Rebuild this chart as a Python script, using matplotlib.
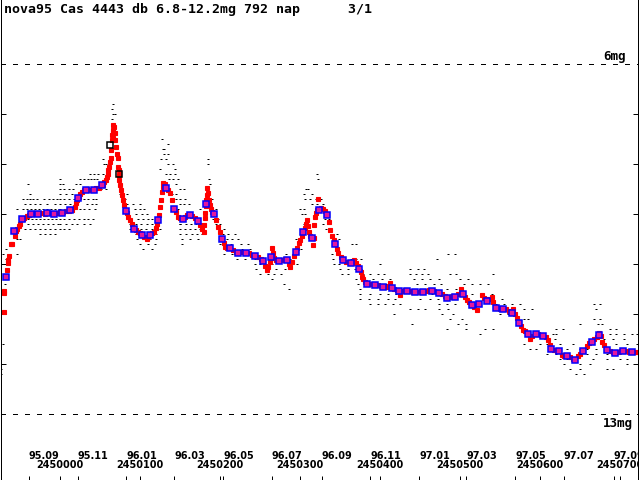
import matplotlib
matplotlib.use('Agg')
import matplotlib.pyplot as plt

# time axis is JD - 2450000, magnitudes grow downward

# red: single estimates, dense track
red_t = [
    -70, -70, -69, -67, -66, -65, -64, -63, -61, -59,
    -56, -55, -53, -51, -49, -46, -44, -41, -38, -36,
    -33, -29, -26, -22, -18, -14, -11, -7, -3, 1,
    4, 8, 12, 16, 19, 21, 22, 24, 26, 28,
    31, 34, 38, 42, 46, 49, 52, 54, 56, 58,
    59, 60, 61, 62, 63, 64, 64.5, 65, 65.5, 66.5,
    67.3, 68, 67, 66.3, 68.8, 69.4, 70.6, 72.3, 72.5, 73.5,
    73.8, 74.4, 74.8, 75.6, 76.5, 77.5, 79, 80.6, 83, 84,
    86, 88, 91, 93, 96, 98.5, 101, 103.5, 106, 109,
    111, 113, 116, 118.5, 120.6, 122, 123.5, 124.4, 125.6, 126.6,
    127.8, 128.8, 129.8, 131.3, 133, 135.6, 138, 140.6, 143.5, 145.6,
    148.5, 150.6, 154, 156.9, 159.4, 163.1, 165.6, 169.4, 173.5, 175.6,
    178.1, 180, 180.6, 181.3, 181.9, 182.5, 183.1, 183.8, 184.8, 185.6,
    186.9, 188.1, 189.4, 190.6, 193.1, 195.6, 198.5, 200.6, 203.5, 205.6,
    206.9, 209.4, 213.1, 216.9, 220.6, 223.5, 226.9, 230.6, 233.1, 236.9,
    240.6, 244.4, 248.1, 251.9, 254.8, 256.9, 259, 260.6, 262.5, 264.4,
    265.3, 266.3, 268.1, 270.6, 274.8, 278.1, 281.9, 284.8, 286.9, 288.1,
    290.6, 293.1, 295.3, 296.9, 299.4, 300.6, 303.1, 304.8, 306.9, 308.1,
    309.8, 310.6, 311.9, 313.1, 315.3, 316.5, 317.5, 318.1, 319.4, 320.6,
    322.3, 323.5, 324.8, 326.9, 329.4, 331.9, 334.8, 336.9, 338.1, 340.6,
    342.5, 344.4, 346.9, 348.5, 351.9, 354.8, 358.1, 361.9, 364.4, 368.1,
    370.6, 373.1, 374.8, 376.3, 377.8, 379.4, 381.9, 384, 386.9, 390.6,
    394.4, 398.1, 401.9, 404.8, 408.1, 411.9, 413.1, 415.3, 418.1, 421.9,
    424.8, 425.6, 428.1, 431.9, 434.8, 438.1, 441.9, 444.8, 448.1, 451.9,
    454.8, 458.1, 461.9, 465.3, 468.1, 471.9, 474.8, 478.1, 481.9, 484.8,
    488.1, 491.9, 494.8, 498.1, 501.5, 504.8, 506.9, 509, 511.9, 515.3,
    518.1, 521.5, 524.8, 527.8, 530.6, 534.8, 536.9, 540.3, 541.9, 545.3,
    548.1, 550.6, 554.8, 558.1, 561.9, 565.3, 567.3, 569.4, 571.9, 574.8,
    576.9, 579.8, 581.9, 585.3, 588.1, 590.6, 595.3, 598.1, 601.9, 604.8,
    608.1, 611, 613.1, 614.8, 618.1, 621.9, 624.8, 627.8, 630.6, 634.8,
    638.1, 641.9, 644.4, 648.1, 650.6, 654.8, 659, 661.9, 665.3, 668.1,
    671.5, 674.8, 676.3, 677.8, 680.6, 684.8, 688.1, 691.9, 694.4, 698.1,
    701.9, 704.8, 708.1, 711.9, 715.3, 719.4, 723.5,
]
red_m = [
    10.96, 10.53, 10.58, 10.26, 10.12, 9.98, 9.92, 9.84, 9.60, 9.60,
    9.44, 9.34, 9.30, 9.24, 9.20, 9.10, 9.08, 9.04, 9.02, 9.00,
    9.00, 8.98, 8.98, 8.98, 9.00, 8.98, 8.98, 9.00, 8.98, 8.96,
    8.96, 8.94, 8.94, 8.92, 8.85, 8.78, 8.72, 8.66, 8.60, 8.55,
    8.52, 8.50, 8.51, 8.50, 8.48, 8.47, 8.42, 8.41, 8.36, 8.32,
    8.26, 8.19, 8.12, 8.05, 7.96, 7.88, 7.72, 7.52, 7.42, 7.32,
    7.22, 7.26, 7.36, 7.48, 7.38, 7.52, 7.66, 7.79, 7.88, 8.05,
    8.12, 8.22, 8.32, 8.42, 8.52, 8.62, 8.72, 8.82, 8.92, 8.98,
    9.05, 9.12, 9.20, 9.28, 9.32, 9.35, 9.38, 9.42, 9.46, 9.49,
    9.46, 9.42, 9.38, 9.35, 9.28, 9.20, 9.12, 9.02, 8.86, 8.72,
    8.56, 8.46, 8.38, 8.40, 8.46, 8.52, 8.58, 8.72, 8.88, 8.96,
    9.05, 9.08, 9.09, 9.06, 9.02, 9.02, 9.04, 9.08, 9.14, 9.22,
    9.30, 9.36, 9.22, 9.08, 8.98, 8.84, 8.72, 8.62, 8.48, 8.58,
    8.72, 8.82, 8.90, 8.96, 9.00, 9.12, 9.25, 9.36, 9.48, 9.58,
    9.65, 9.68, 9.68, 9.72, 9.76, 9.78, 9.76, 9.76, 9.77, 9.78,
    9.82, 9.84, 9.86, 9.90, 9.95, 10.04, 10.12, 10.06, 9.96, 9.87,
    9.68, 9.78, 9.88, 9.92, 9.94, 9.92, 9.90, 9.92, 10.00, 10.05,
    9.96, 9.84, 9.75, 9.68, 9.58, 9.52, 9.44, 9.37, 9.28, 9.20,
    9.12, 9.24, 9.36, 9.44, 9.47, 9.62, 9.48, 9.22, 9.05, 8.98,
    8.92, 8.70, 8.90, 8.88, 8.90, 8.94, 9.02, 9.16, 9.32, 9.44,
    9.52, 9.59, 9.70, 9.79, 9.86, 9.92, 9.96, 9.96, 9.97, 9.91,
    9.98, 10.04, 10.09, 10.16, 10.25, 10.30, 10.36, 10.40, 10.40, 10.40,
    10.41, 10.42, 10.44, 10.45, 10.46, 10.44, 10.37, 10.47, 10.50, 10.52,
    10.53, 10.62, 10.54, 10.52, 10.53, 10.54, 10.56, 10.56, 10.56, 10.54,
    10.55, 10.54, 10.52, 10.53, 10.54, 10.56, 10.57, 10.60, 10.64, 10.67,
    10.66, 10.64, 10.65, 10.60, 10.49, 10.59, 10.66, 10.72, 10.76, 10.81,
    10.86, 10.92, 10.79, 10.62, 10.68, 10.73, 10.70, 10.65, 10.76, 10.87,
    10.88, 10.90, 10.89, 10.90, 10.94, 10.97, 10.89, 11.00, 11.08, 11.17,
    11.24, 11.31, 11.34, 11.39, 11.49, 11.44, 11.39, 11.40, 11.42, 11.43,
    11.46, 11.52, 11.62, 11.69, 11.72, 11.74, 11.73, 11.82, 11.84, 11.83,
    11.86, 11.90, 11.91, 11.84, 11.79, 11.74, 11.64, 11.58, 11.55, 11.50,
    11.45, 11.38, 11.44, 11.55, 11.62, 11.71, 11.74, 11.76, 11.77, 11.76,
    11.74, 11.73, 11.74, 11.76, 11.76, 11.76, 11.76,
]

# blue: 10-day means
blue_t = [
    -67.3, -56.5, -46.5, -36, -26.5, -16, -6.9, 2.8, 13.1, 23.5,
    33.1, 43.5, 53.5, 83.1, 93.1, 103.5, 113.1, 123.5, 133.1, 143.5,
    154, 163.1, 173.5, 183.1, 193.1, 203.5, 213.1, 223.5, 233.1, 244.4,
    254.8, 264.4, 274.8, 284.8, 295.3, 304.8, 315.3, 324.8, 334.8, 344.4,
    354.8, 364.4, 374.8, 384, 394.4, 404.8, 415.3, 424.8, 434.8, 444.8,
    454.8, 465.3, 474.8, 484.8, 494.8, 504.8, 515.3, 524.8, 534.8, 545.3,
    554.8, 565.3, 574.8, 585.3, 595.3, 604.8, 614.8, 624.8, 634.8, 644.4,
    654.8, 665.3, 674.8, 684.8, 694.4, 704.8, 715.3,
]
blue_m = [
    10.25, 9.34, 9.10, 9.00, 9.00, 8.98, 9.00, 8.97, 8.92, 8.67,
    8.51, 8.51, 8.41, 8.94, 9.30, 9.42, 9.42, 9.12, 8.47, 8.89,
    9.09, 9.02, 9.14, 8.80, 9.00, 9.49, 9.68, 9.79, 9.77, 9.84,
    9.95, 9.87, 9.94, 9.92, 9.75, 9.37, 9.47, 8.91, 9.02, 9.59,
    9.92, 9.97, 10.09, 10.40, 10.41, 10.45, 10.47, 10.53, 10.53, 10.56,
    10.55, 10.53, 10.57, 10.67, 10.65, 10.59, 10.81, 10.79, 10.73, 10.87,
    10.89, 10.97, 11.17, 11.39, 11.39, 11.43, 11.69, 11.73, 11.83, 11.91,
    11.74, 11.55, 11.42, 11.71, 11.77, 11.73, 11.76,
]

# black open squares near the first maximum
black_t = [63.1, 74.0]
black_m = [7.62, 8.19]

# visual estimates (t, mag), 0.1 mag steps
vis_a = [
    (-39, 8.4), (-37, 8.6),
    (-46, 8.7), (-41, 8.7), (-37, 8.7), (-33, 8.7), (-28, 8.7), (-20, 8.7), (-13, 8.7), (-8, 8.7), (-3, 8.7),
    (-43, 8.8), (-37, 8.8), (-31, 8.8), (-24, 8.8), (-16, 8.8), (-6, 8.8),
    (-53, 8.9), (-46, 8.9), (-41, 8.9), (-36, 8.9), (-31, 8.9), (-26, 8.9), (-21, 8.9), (-16, 8.9),
    (-11, 8.9), (-6, 8.9), (-1, 8.9),
    (-39, 9.1), (-34, 9.1), (-29, 9.1), (-24, 9.1), (-19, 9.1), (-14, 9.1), (-9, 9.1), (-4, 9.1),
    (-39, 9.2), (-33, 9.2), (-27, 9.2), (-21, 9.2), (-14, 9.2), (-8, 9.2), (-2, 9.2),
    (-43, 9.3), (-37, 9.3), (-31, 9.3), (-24, 9.3), (-18, 9.3), (-12, 9.3), (-6, 9.3),
    (-24, 9.4), (-18, 9.4), (-12, 9.4), (-6, 9.4),
    (-53, 9.5), (-49, 9.5), (-67, 9.7), (-71, 9.8), (-53, 9.8), (-67, 9.9),
    (-68, 10.4), (-71, 11.6), (-73, 12.1), (-73, 12.2),
]
vis_b = [
    (67, 6.8), (66, 6.9), (67, 7.0), (69, 7.0), (66, 7.1),
    (71, 7.5), (128, 7.5), (136, 7.6), (129, 7.7), (131, 7.7), (131, 7.8), (136, 7.8),
    (54, 7.9), (127, 7.9), (133, 7.9), (55, 8.0), (58, 8.0), (136, 8.0), (142, 8.0),
    (126, 8.1), (144, 8.1),
    (38, 8.2), (43, 8.2), (48, 8.2), (54, 8.2), (133, 8.2), (138, 8.2), (144, 8.2),
    (1, 8.3), (26, 8.3), (30, 8.3), (35, 8.3), (39, 8.3), (43, 8.3), (47, 8.3), (137, 8.3), (142, 8.3), (148, 8.3),
    (1, 8.4), (4, 8.4), (20, 8.4), (25, 8.4), (146, 8.4),
    (1, 8.5), (6, 8.5), (12, 8.5), (17, 8.5), (47, 8.5), (52, 8.5), (58, 8.5),
    (1, 8.6), (8, 8.6), (15, 8.6), (76, 8.6), (84, 8.6), (140, 8.6), (146, 8.6),
    (1, 8.7), (6, 8.7), (12, 8.7), (18, 8.7), (24, 8.7), (30, 8.7), (36, 8.7), (42, 8.7), (46, 8.7),
    (82, 8.7), (146, 8.7),
    (1, 8.8), (7, 8.8), (13, 8.8), (34, 8.8), (40, 8.8), (46, 8.8), (84, 8.8), (92, 8.8), (100, 8.8),
    (1, 8.9), (7, 8.9), (13, 8.9), (19, 8.9), (25, 8.9), (31, 8.9), (37, 8.9), (44, 8.9),
    (94, 8.9), (100, 8.9), (106, 8.9), (148, 8.9),
    (96, 9.0), (103, 9.0), (109, 9.0),
    (1, 9.1), (6, 9.1), (12, 9.1), (18, 9.1), (24, 9.1), (30, 9.1), (36, 9.1), (42, 9.1),
    (98, 9.1), (104, 9.1), (110, 9.1), (116, 9.1), (122, 9.1),
    (1, 9.2), (8, 9.2), (15, 9.2), (22, 9.2), (30, 9.2), (38, 9.2),
    (88, 9.2), (95, 9.2), (102, 9.2), (109, 9.2), (116, 9.2), (122, 9.2), (150, 9.2),
    (1, 9.3), (6, 9.3), (12, 9.3), (88, 9.3), (95, 9.3), (102, 9.3), (108, 9.3), (115, 9.3), (122, 9.3), (126, 9.3),
    (96, 9.4), (104, 9.4), (112, 9.4), (120, 9.4),
    (97, 9.5), (105, 9.5), (113, 9.5), (121, 9.5),
    (101, 9.6), (110, 9.6), (119, 9.6), (104, 9.7), (116, 9.7),
]
vis_c = [
    (185, 7.9), (186, 8.0), (322, 8.2), (187, 8.3), (323, 8.3), (188, 8.4),
    (151, 8.5), (155, 8.5), (308, 8.5), (311, 8.5), (306, 8.6), (315, 8.6),
    (151, 8.7), (157, 8.7), (190, 8.7), (307, 8.7), (313, 8.7), (320, 8.7), (327, 8.7),
    (151, 8.8), (156, 8.8), (162, 8.8), (315, 8.8), (322, 8.8), (329, 8.8),
    (176, 8.9), (196, 8.9), (301, 8.9), (306, 8.9), (303, 9.0), (307, 9.0),
    (192, 9.1), (198, 9.1), (332, 9.1), (337, 9.1),
    (151, 9.2), (158, 9.2), (164, 9.2), (170, 9.2), (176, 9.2), (195, 9.2), (201, 9.2),
    (305, 9.2), (310, 9.2), (329, 9.2), (336, 9.2),
    (151, 9.3), (157, 9.3), (163, 9.3), (169, 9.3), (176, 9.3), (199, 9.3), (205, 9.3), (333, 9.3), (338, 9.3),
    (151, 9.4), (158, 9.4), (165, 9.4), (172, 9.4), (178, 9.4), (204, 9.4), (210, 9.4), (219, 9.4),
    (153, 9.5), (163, 9.5), (173, 9.5), (209, 9.5), (215, 9.5), (223, 9.5), (296, 9.5), (302, 9.5),
    (153, 9.6), (201, 9.6), (207, 9.6), (214, 9.6), (227, 9.6), (236, 9.6), (298, 9.6),
    (209, 9.7), (218, 9.7), (228, 9.7), (238, 9.7), (295, 9.7), (302, 9.7),
    (205, 9.8), (215, 9.8), (225, 9.8), (235, 9.8), (245, 9.8), (283, 9.8), (294, 9.8),
    (222, 9.9), (232, 9.9), (244, 9.9), (280, 9.9), (288, 9.9),
    (244, 10.0), (251, 10.0), (258, 10.0), (265, 10.0), (290, 10.0), (297, 10.0),
    (245, 10.1), (258, 10.1), (270, 10.1), (282, 10.1),
    (250, 10.2), (260, 10.2), (268, 10.2), (277, 10.2),
    (265, 10.3), (280, 10.4), (287, 10.5),
]
vis_d = [
    (342, 9.4), (347, 9.4), (344, 9.5), (349, 9.5), (365, 9.6), (371, 9.6), (345, 9.7),
    (340, 9.8), (347, 9.8), (486, 9.8), (494, 9.8),
    (342, 9.9), (364, 9.9), (370, 9.9), (377, 9.9), (472, 9.9),
    (343, 10.0), (349, 10.0), (401, 10.0),
    (351, 10.1), (360, 10.1), (369, 10.1), (377, 10.1), (438, 10.1), (448, 10.1), (455, 10.1),
    (353, 10.2), (361, 10.2), (379, 10.2), (388, 10.2), (398, 10.2), (405, 10.2),
    (438, 10.2), (445, 10.2), (453, 10.2), (461, 10.2), (488, 10.2), (496, 10.2),
    (370, 10.3), (381, 10.3), (392, 10.3), (403, 10.3), (413, 10.3),
    (443, 10.3), (453, 10.3), (463, 10.3), (474, 10.3), (500, 10.3), (510, 10.3),
    (373, 10.4), (401, 10.4), (408, 10.4), (447, 10.4), (457, 10.4), (468, 10.4), (477, 10.4), (505, 10.4), (515, 10.4),
    (376, 10.5), (484, 10.5), (495, 10.5),
    (376, 10.6), (388, 10.6), (400, 10.6), (411, 10.6), (421, 10.6), (443, 10.6), (453, 10.6),
    (465, 10.6), (477, 10.6), (489, 10.6), (500, 10.6), (506, 10.6), (516, 10.6),
    (376, 10.7), (387, 10.7), (398, 10.7), (410, 10.7), (419, 10.7), (451, 10.7), (463, 10.7), (473, 10.7), (492, 10.7),
    (388, 10.8), (398, 10.8), (407, 10.8), (417, 10.8), (426, 10.8), (474, 10.8), (484, 10.8), (494, 10.8), (510, 10.8), (518, 10.8),
    (438, 10.9), (448, 10.9), (457, 10.9), (474, 10.9), (486, 10.9),
    (418, 11.0), (478, 11.0), (492, 11.0), (488, 11.1), (503, 11.1),
    (440, 11.2), (498, 11.2), (508, 11.2), (484, 11.3), (508, 11.3), (526, 11.4),
]
vis_e = [
    (542, 10.2), (526, 10.4), (536, 10.4), (540, 10.6), (553, 10.7),
    (546, 10.8), (555, 10.8), (565, 10.8), (576, 10.8), (668, 10.8), (675, 10.8),
    (580, 10.9), (590, 10.9), (671, 10.9), (550, 11.0), (560, 11.0),
    (580, 11.1), (586, 11.1), (668, 11.1), (676, 11.1), (651, 11.2), (673, 11.2), (678, 11.2),
    (532, 11.3), (542, 11.3), (621, 11.3), (629, 11.3), (688, 11.3), (696, 11.3),
    (617, 11.4), (621, 11.4), (688, 11.4), (696, 11.4), (705, 11.4), (715, 11.4), (722, 11.4),
    (609, 11.5), (619, 11.5), (680, 11.5), (692, 11.5), (705, 11.5),
    (580, 11.6), (600, 11.6), (609, 11.6), (625, 11.6), (642, 11.6), (696, 11.6), (709, 11.6), (722, 11.6),
    (588, 11.7), (596, 11.7), (634, 11.7), (650, 11.7), (659, 11.7), (671, 11.7),
    (609, 11.8), (621, 11.8), (659, 11.8), (671, 11.8), (684, 11.8), (700, 11.8), (717, 11.8),
    (625, 11.9), (634, 11.9), (667, 11.9), (684, 11.9), (700, 11.9), (709, 11.9),
    (630, 12.0), (651, 12.0), (663, 12.0), (709, 12.0), (721, 12.0),
    (638, 12.1), (651, 12.1), (684, 12.1), (692, 12.1), (646, 12.2), (655, 12.2),
]

# axis labels: first of month and round JD
month_t = [-38.5, 22.5, 83.5, 143.5, 204.5, 265.5, 327.5, 388.5, 449.5, 508.5, 569.5, 630.5, 692.5]
month_lab = ['95.09', '95.11', '96.01', '96.03', '96.05', '96.07', '96.09',
             '96.11', '97.01', '97.03', '97.05', '97.07', '97.09']
jd_t = [0, 100, 200, 300, 400, 500, 600, 700]
jd_lab = ['2450000', '2450100', '2450200', '2450300', '2450400', '2450500', '2450600', '2450700']

title = 'nova95 Cas 4443 db 6.8-12.2mg 792 nap      3/1'
mono = 'DejaVu Sans Mono'

fig = plt.figure(figsize=(6.4, 4.8), dpi=100)
ax = fig.add_axes([0.5 / 640, 0.5 / 480, 637 / 640, 479.5 / 480])
ax.set_xlim(-73.75, 722.5)
ax.set_ylim(14.31, 4.72)

for s in ['left', 'right', 'bottom']:
    ax.spines[s].set_linewidth(0.72)
ax.spines['top'].set_visible(False)

ax.set_yticks([7, 8, 9, 10, 11, 12])
ax.set_xticks(jd_t + month_t)
ax.tick_params(axis='y', direction='in', length=3.6, width=0.72, left=True, right=True,
               labelleft=False, labelright=False)
ax.tick_params(axis='x', direction='in', length=2.9, width=0.72, labelbottom=False)

# limit lines 6mg / 13mg
for lim in (6, 13):
    ax.axhline(lim, color='black', lw=0.72, dashes=(5, 7.5), antialiased=False)

# visual estimates
vis = vis_a + vis_b + vis_c + vis_d + vis_e
ax.plot([p[0] for p in vis], [p[1] for p in vis], ls='none', marker='_', ms=1.6, mew=0.72,
        color='black', antialiased=False)

ax.plot(red_t, red_m, ls='none', marker='s', ms=3.4, mfc='#ff0000', mec='#ff0000', mew=0.8,
        antialiased=False)
ax.plot(blue_t, blue_m, ls='none', marker='s', ms=3.8, mfc='#e4199c', mec='#0000ff', mew=1.1,
        antialiased=False)
ax.plot(black_t, black_m, ls='none', marker='s', ms=3.8, mfc='none', mec='black', mew=1.1,
        antialiased=False)

ax.text(-69.4, 4.97, title, family=mono, weight='bold', size=9.5, ha='left', va='baseline')
ax.text(679.4, 5.92, '6mg', family=mono, weight='bold', size=9, ha='left', va='baseline')
ax.text(679.4, 13.26, '13mg', family=mono, weight='bold', size=9, ha='left', va='baseline')

# bottom date rows (last labels cut by the frame, as in the original)
for t, lab in zip(month_t, month_lab):
    ax.text(t, 13.90, lab, family='DejaVu Sans', weight='bold', size=7, ha='left',
            va='baseline', clip_on=True)
for t, lab in zip(jd_t, jd_lab):
    ax.text(t, 14.07, lab, family='DejaVu Sans', weight='bold', size=7, ha='center',
            va='baseline', clip_on=True)

fig.savefig('out.png', dpi=100)
